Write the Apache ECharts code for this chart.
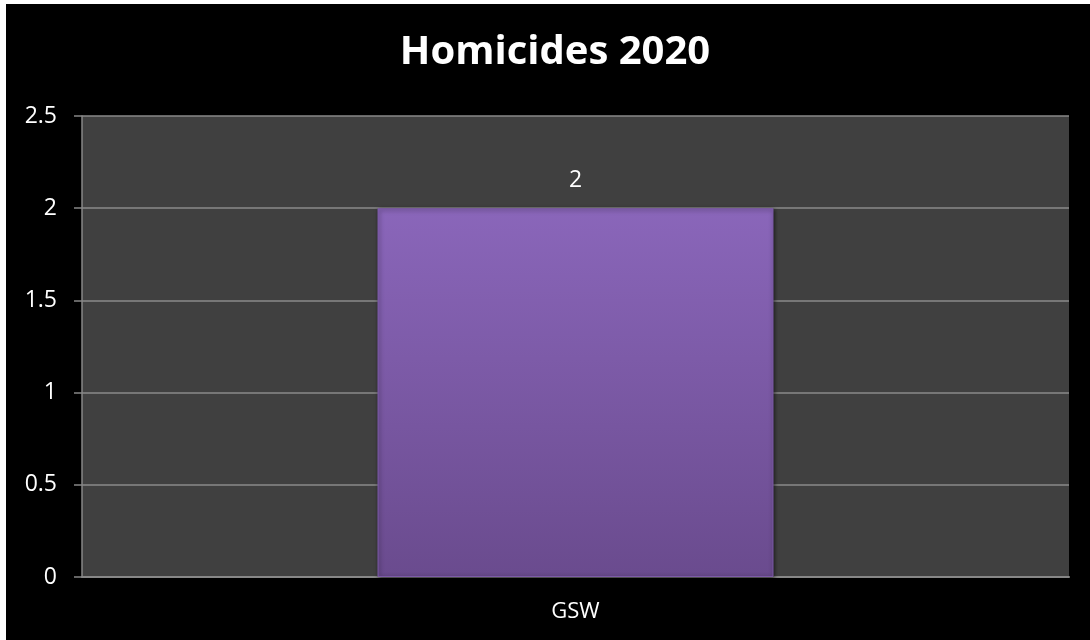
<!DOCTYPE html>
<html>
<head>
<meta charset="utf-8">
<script src="https://cdn.jsdelivr.net/npm/echarts@6/dist/echarts.min.js"></script>
<style>
html,body{margin:0;padding:0;background:#000;}
#c{width:1090px;height:640px;}
</style>
</head>
<body>
<div id="c"></div>
<script>
const titleText = 'Homicides 2020';
const categories = ['GSW'];
const values = [2];
const yTicks = [0, 0.5, 1, 1.5, 2, 2.5];

const chart = echarts.init(document.getElementById('c'));
chart.setOption({
  backgroundColor: '#000',
  animation: false,
  title: {
    text: titleText,
    left: 550,
    textAlign: 'center',
    top: 28,
    textStyle: { color: '#fff', fontFamily: 'Open Sans', fontWeight: 'bold', fontSize: 40 }
  },
  graphic: [
    { type: 'rect', shape: { x: 0, y: 0, width: 6, height: 640 }, style: { fill: '#fff' }, z: 100 },
    { type: 'rect', shape: { x: 0, y: 0, width: 1090, height: 4 }, style: { fill: '#fff' }, z: 100 }
  ],
  grid: {
    left: 82, right: 21, top: 116, bottom: 63,
    show: true, backgroundColor: '#404040', borderWidth: 0
  },
  xAxis: {
    type: 'category',
    data: categories,
    axisLine: { show: true, lineStyle: { color: '#878787', width: 2 } },
    axisTick: { show: false },
    axisLabel: { color: '#fff', fontFamily: 'Open Sans', fontSize: 22, margin: 24 }
  },
  yAxis: {
    type: 'value',
    min: yTicks[0],
    max: yTicks[yTicks.length - 1],
    interval: yTicks[1] - yTicks[0],
    axisLine: { show: true, lineStyle: { color: '#878787', width: 1.5 } },
    axisTick: { show: true, length: 8, lineStyle: { color: '#878787', width: 1.5 } },
    splitLine: { show: true, lineStyle: { color: '#8a8a8a', width: 1.5 } },
    axisLabel: { color: '#fff', fontFamily: 'Open Sans', fontSize: 23, margin: 25 }
  },
  series: [{
    type: 'bar',
    data: values,
    barWidth: 396,
    itemStyle: {
      color: new echarts.graphic.LinearGradient(0, 0, 0, 1, [
        { offset: 0, color: '#8a66ba' },
        { offset: 1, color: '#6a4b8e' }
      ]),
      borderColor: '#7d5aa8',
      borderWidth: 1,
      shadowColor: 'rgba(0,0,0,0.6)',
      shadowBlur: 4,
      shadowOffsetX: 1,
      shadowOffsetY: 1
    },
    label: {
      show: true,
      position: 'top',
      distance: 16,
      color: '#fff',
      fontFamily: 'Open Sans',
      fontSize: 23
    }
  }]
});
</script>
</body>
</html>
